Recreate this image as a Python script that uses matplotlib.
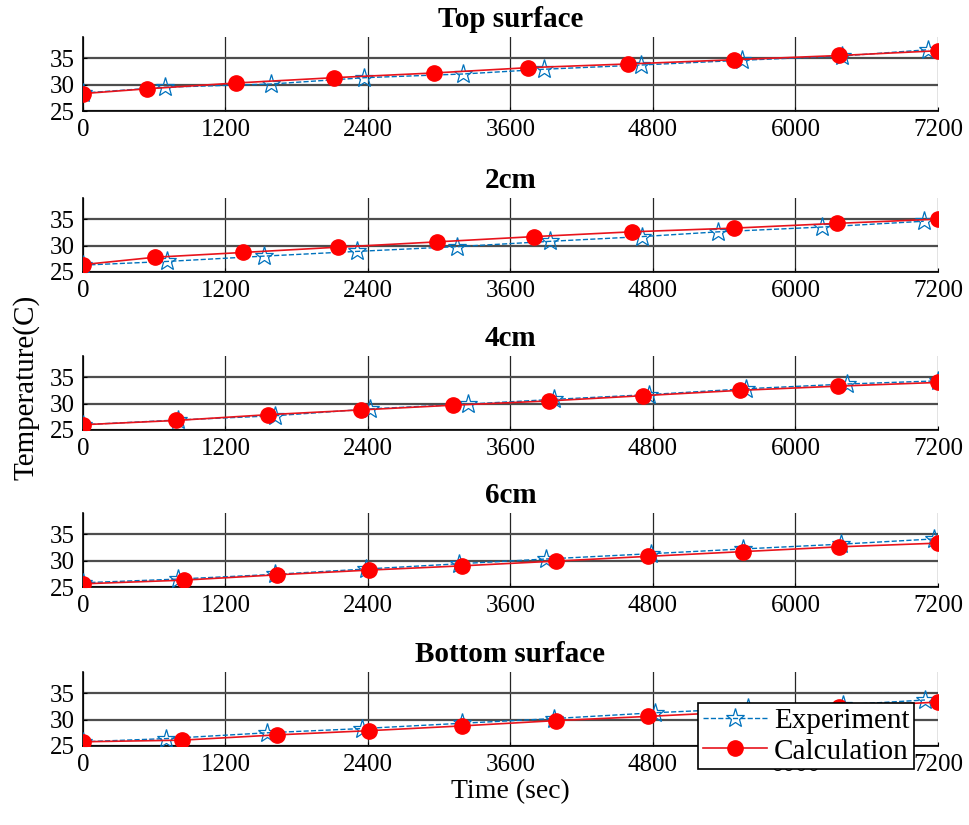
import numpy as np
import matplotlib
matplotlib.use("Agg")
from matplotlib import pyplot as plt

plt.rcParams['font.family'] = ['Liberation Serif', 'DejaVu Serif']
plt.rcParams['mathtext.fontset'] = 'stix'

# Panel titles
titles = ["Top surface", "2cm", "4cm", "6cm", "Bottom surface"]

# Experiment (stars): time (s), temperature (C)
exp_t = [
    [0, 690, 1580, 2370, 3200, 3880, 4700, 5550, 6390, 7120],
    [0, 710, 1520, 2310, 3150, 3930, 4710, 5350, 6220, 7080],
    [0, 800, 1620, 2420, 3240, 3970, 4770, 5580, 6430, 7200],
    [0, 800, 1620, 2380, 3170, 3900, 4780, 5560, 6380, 7170],
    [0, 700, 1550, 2350, 3190, 3970, 4820, 5600, 6400, 7090],
]
exp_T = [
    [28.4, 29.5, 30.1, 31.3, 32.0, 32.9, 33.7, 34.6, 35.4, 36.6],
    [26.3, 27.0, 28.0, 28.9, 29.8, 30.8, 31.7, 32.6, 33.5, 34.6],
    [26.0, 26.9, 27.7, 29.0, 29.9, 30.8, 31.7, 32.8, 33.7, 34.3],
    [25.8, 26.5, 27.4, 28.4, 29.4, 30.3, 31.3, 32.2, 33.1, 34.1],
    [25.8, 26.4, 27.5, 28.3, 29.3, 30.2, 31.3, 32.1, 32.8, 33.7],
]

# Calculation (circles): time (s), temperature (C)
calc_t = [
    [0, 540, 1290, 2110, 2960, 3750, 4590, 5480, 6370, 7200],
    [0, 610, 1350, 2150, 2980, 3800, 4620, 5480, 6350, 7200],
    [0, 780, 1560, 2340, 3120, 3920, 4720, 5530, 6360, 7200],
    [0, 850, 1630, 2410, 3190, 3980, 4760, 5560, 6370, 7200],
    [0, 830, 1630, 2410, 3190, 3980, 4760, 5560, 6370, 7200],
]
calc_T = [
    [28.3, 29.2, 30.3, 31.3, 32.2, 33.2, 33.9, 34.7, 35.5, 36.4],
    [26.4, 27.8, 28.7, 29.7, 30.7, 31.7, 32.6, 33.3, 34.2, 35.0],
    [26.0, 26.8, 27.9, 28.8, 29.7, 30.5, 31.5, 32.5, 33.3, 34.0],
    [25.6, 26.3, 27.3, 28.2, 29.0, 29.9, 30.8, 31.7, 32.6, 33.3],
    [25.8, 26.1, 27.1, 27.9, 28.8, 29.8, 30.6, 31.5, 32.4, 33.3],
]

xticks = [0, 1200, 2400, 3600, 4800, 6000, 7200]
yticks = [25, 30, 35]

fig = plt.figure(figsize=(9.69, 8.25), dpi=100)

left = 83 / 969
width = (938 - 83) / 969
height = 74 / 825
bottoms_px = [111, 272, 430, 587, 746]

blue = '#0072BD'
for i, title in enumerate(titles):
    ax = fig.add_axes([left, 1 - bottoms_px[i] / 825, width, height])
    ax.plot(exp_t[i], exp_T[i], linestyle='--', color=blue, lw=1.0,
            marker='*', markersize=14, markerfacecolor='none',
            markeredgecolor=blue, markeredgewidth=0.9, label='Experiment', zorder=3)
    ax.plot(calc_t[i], calc_T[i], linestyle='-', color='#e8141c', lw=1.2,
            marker='o', markersize=11, markerfacecolor='red',
            markeredgecolor='red', label='Calculation', zorder=4)
    ax.set_xlim(0, 7200)
    ax.set_ylim(25, 39)
    ax.set_xticks(xticks)
    ax.set_yticks(yticks)
    ax.tick_params(labelsize=18, direction='in', length=3, pad=6)
    ax.grid(axis='x', color='0.15', lw=0.9)
    ax.grid(axis='y', color='0.3', lw=1.6)
    ax.set_axisbelow(True)
    ax.spines['top'].set_visible(False)
    ax.spines['right'].set_visible(False)
    ax.spines['left'].set_linewidth(1.2)
    ax.spines['bottom'].set_linewidth(1.2)
    ax.set_title(title, fontsize=21, fontweight='bold', pad=7)
    for lab in ax.get_xticklabels() + ax.get_yticklabels():
        lab.set_clip_on(False)
    if i == len(titles) - 1:
        ax.set_xlabel('Time (sec)', fontsize=20, labelpad=2)
        leg = ax.legend(loc='lower right', bbox_to_anchor=(0.972, -0.31),
                        fontsize=21, frameon=True, fancybox=False,
                        framealpha=1, edgecolor='black', handlelength=2.2,
                        borderpad=0.15, labelspacing=0.15, handletextpad=0.25,
                        borderaxespad=0)
        leg.get_frame().set_linewidth(1.2)
        leg.set_zorder(10)

fig.text(0.027, 0.531, 'Temperature(C)', rotation=90, fontsize=21,
         ha='center', va='center')

fig.savefig('out.png', dpi=100)
